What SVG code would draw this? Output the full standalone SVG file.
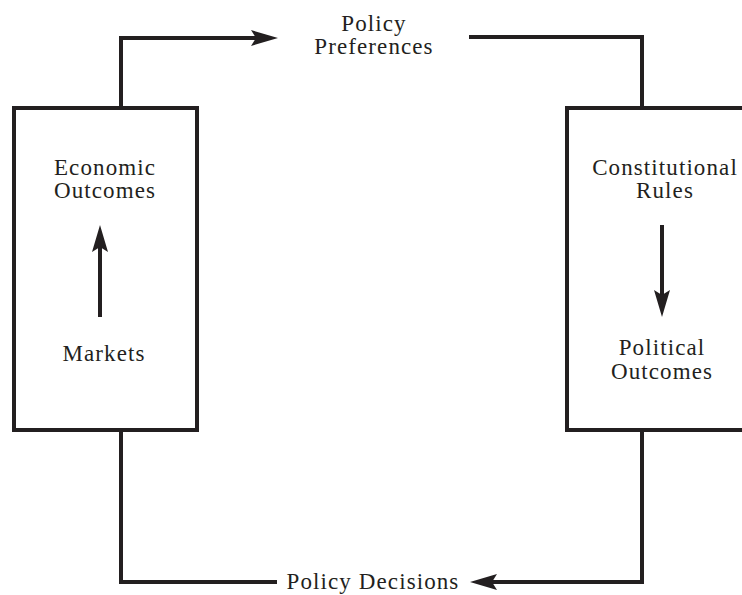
<svg xmlns="http://www.w3.org/2000/svg" width="742" height="595" viewBox="0 0 742 595">
  <style>
    .box { fill: #ffffff; stroke: #231f20; stroke-width: 4; }
    .wire { fill: none; stroke: #231f20; stroke-width: 4; stroke-linejoin: miter; stroke-linecap: square; }
    .lbl { font-family: "Liberation Serif", "Times New Roman", serif; font-size: 23px; letter-spacing: 1.1px; fill: #231f20; text-anchor: middle; }
  </style>
  <defs>
    <marker id="head" viewBox="0 0 27 16" markerWidth="27" markerHeight="16" refX="17" refY="8" orient="auto" markerUnits="userSpaceOnUse">
      <path d="M0,0 L27,8 L0,16 L5,8 Z" fill="#231f20"/>
    </marker>
  </defs>
  <rect width="742" height="595" fill="#ffffff"/>

  <g id="economic">
    <rect class="box" x="14" y="108" width="183" height="322"/>
    <text class="lbl" x="105" y="175">Economic</text>
    <text class="lbl" x="105" y="198">Outcomes</text>
    <text class="lbl" x="104" y="361">Markets</text>
  </g>

  <g id="political">
    <rect class="box" x="567" y="108" width="182" height="322"/>
    <text class="lbl" x="665" y="175">Constitutional</text>
    <text class="lbl" x="665" y="198">Rules</text>
    <text class="lbl" x="662" y="355">Political</text>
    <text class="lbl" x="662" y="379">Outcomes</text>
  </g>

  <g id="preferences">
    <text class="lbl" x="374" y="31">Policy</text>
    <text class="lbl" x="374" y="54">Preferences</text>
  </g>

  <g id="decisions">
    <text class="lbl" x="373" y="589">Policy Decisions</text>
  </g>

  <!-- connectors, drawn last so the arrows inside the boxes stay visible -->
  <g id="connectors">
    <path class="wire" d="M121,108 V38 H268" marker-end="url(#head)"/>
    <path class="wire" d="M471,37 H642 V108"/>
    <path class="wire" d="M642,430 V582 H480" marker-end="url(#head)"/>
    <path class="wire" d="M121,430 V582 H275"/>
    <path class="wire" d="M100,315 V235" marker-end="url(#head)"/>
    <path class="wire" d="M662,227 V307" marker-end="url(#head)"/>
  </g>
</svg>
